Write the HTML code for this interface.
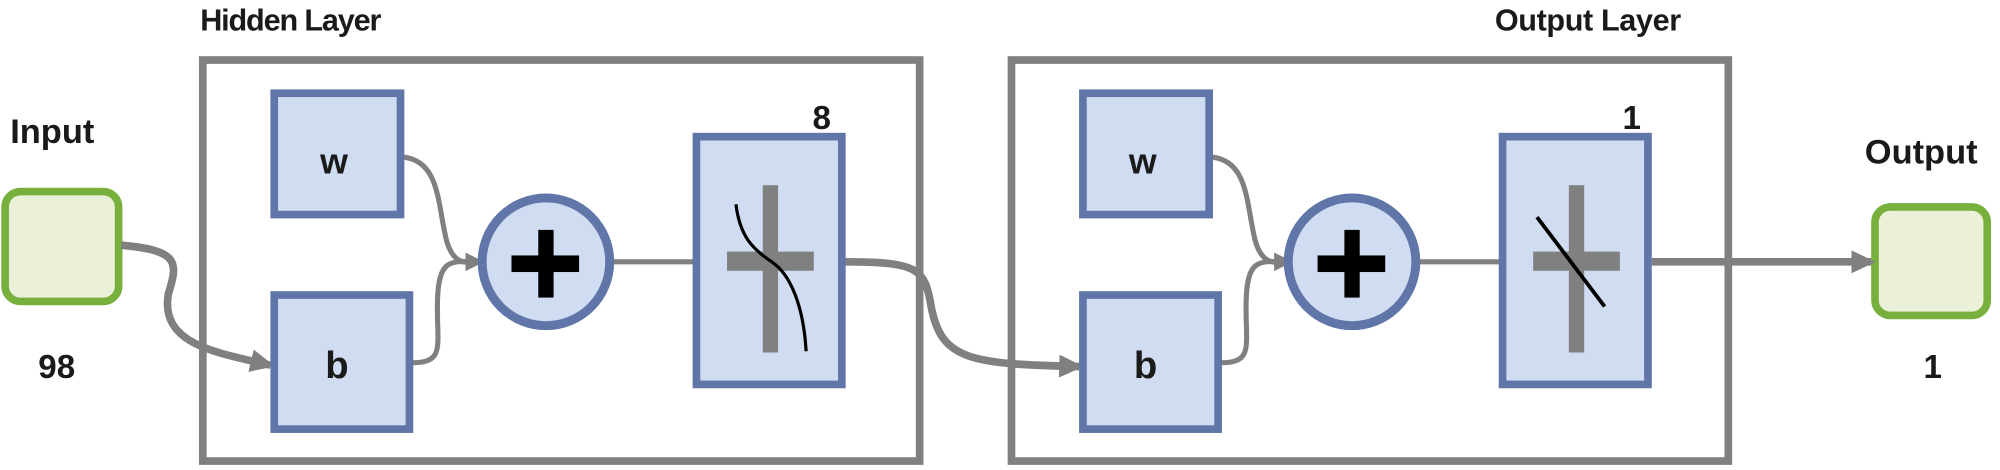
<!DOCTYPE html>
<html><head><meta charset="utf-8"><style>
html,body{margin:0;padding:0;background:#fff;width:2000px;height:470px;overflow:hidden}
svg{display:block}
text{font-family:"Liberation Sans",sans-serif;font-weight:bold;fill:#1a1a1a}
</style></head><body>
<svg width="2000" height="470" viewBox="0 0 1568 368" preserveAspectRatio="none">
<defs>
<marker id="a" markerWidth="3.2" markerHeight="3" refX="2.6" refY="1.5" orient="auto" markerUnits="strokeWidth"><path d="M0,0 L3.2,1.5 L0,3 Z" fill="#808080"/></marker>
<marker id="a2" markerWidth="3.6" markerHeight="3.6" refX="3" refY="1.8" orient="auto" markerUnits="strokeWidth"><path d="M0,0 L3.6,1.8 L0,3.6 Z" fill="#808080"/></marker>
</defs>
<text x="157" y="24" font-size="24" textLength="142">Hidden Layer</text>
<text x="1172" y="24" font-size="24" textLength="146">Output Layer</text>
<rect x="159" y="47" width="562" height="314" fill="none" stroke="#808080" stroke-width="6"/>
<rect x="793" y="47" width="562" height="314" fill="none" stroke="#808080" stroke-width="6"/>
<text x="8" y="112" font-size="27">Input</text>
<rect x="4" y="150" width="89" height="86" rx="12" fill="#ebf1d9" stroke="#77b03c" stroke-width="6"/>
<text x="30" y="296" font-size="26">98</text>
<text x="1462" y="128" font-size="27">Output</text>
<rect x="1470" y="162" width="88" height="85" rx="12" fill="#ebf1d9" stroke="#77b03c" stroke-width="6"/>
<text x="1508" y="296" font-size="26">1</text>
<g fill="none" stroke="#808080">
<path d="M95,192 C140,196 140,205 132,230 C125,270 170,276 212,286" stroke-width="6" marker-end="url(#a)"/>
<path d="M316,123 C345,126 343,160 350,188 C356,210 368,205 377,205" stroke-width="4" marker-end="url(#a2)"/>
<path d="M323,284 C350,284 342,270 343,235 C344,200 355,205 377,205" stroke-width="4" marker-end="url(#a2)"/>
<path d="M478,205 L544,205" stroke-width="4"/>
<path d="M661,205 C720,205 725,210 730,240 C738,282 760,285 846,287" stroke-width="6" marker-end="url(#a)"/>
<path d="M950,123 C979,126 977,160 984,188 C990,210 1002,205 1011,205" stroke-width="4" marker-end="url(#a2)"/>
<path d="M957,284 C984,284 976,270 977,235 C978,200 989,205 1011,205" stroke-width="4" marker-end="url(#a2)"/>
<path d="M1110,205 L1176,205" stroke-width="4"/>
<path d="M1295,205 L1467,205" stroke-width="6" marker-end="url(#a)"/>
</g>
<g fill="#d0dcf1" stroke="#6075a8" stroke-width="6">
<rect x="215" y="73" width="99" height="95"/>
<rect x="215" y="231" width="106" height="105"/>
<circle cx="428" cy="205" r="50" stroke-width="7"/>
<rect x="546" y="107" width="114" height="194"/>
<rect x="849" y="73" width="99" height="95"/>
<rect x="849" y="231" width="106" height="105"/>
<circle cx="1060" cy="205" r="50" stroke-width="7"/>
<rect x="1178" y="107" width="114" height="194"/>
</g>
<text x="251" y="136" font-size="28">w</text>
<text x="255" y="296" font-size="30">b</text>
<text x="885" y="136" font-size="28">w</text>
<text x="889" y="296" font-size="30">b</text>
<text x="637" y="101" font-size="26">8</text>
<text x="1272" y="101" font-size="26">1</text>
<g fill="#000">
<rect x="422" y="180" width="12" height="53"/><rect x="401" y="200" width="53" height="13"/>
<rect x="1054" y="180" width="12" height="53"/><rect x="1033" y="200" width="53" height="13"/>
</g>
<g fill="#808080">
<rect x="598" y="145" width="12" height="131"/><rect x="570" y="197" width="68" height="15"/>
<rect x="1230" y="145" width="12" height="131"/><rect x="1202" y="197" width="68" height="15"/>
</g>
<path d="M577,160 C580,185 590,195 605,205 C620,215 630,240 632,275" fill="none" stroke="#000" stroke-width="2.5"/>
<path d="M1205,170 L1258,240" stroke="#000" stroke-width="3"/>
</svg>
</body></html>
